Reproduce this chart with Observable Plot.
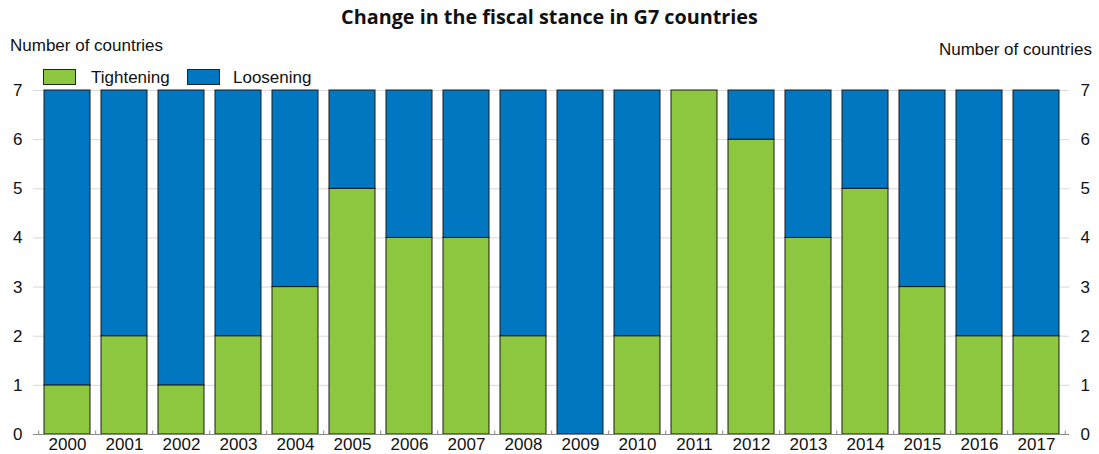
<!DOCTYPE html>
<html>
<head>
<meta charset="utf-8">
<script src="https://cdn.jsdelivr.net/npm/d3@7"></script>
<script src="https://cdn.jsdelivr.net/npm/@observablehq/plot@0.6"></script>
<style>
  html, body { margin: 0; padding: 0; background: #fff; }
  #wrap { position: relative; width: 1099px; height: 454px; font-family: "Liberation Sans", Arial, sans-serif; }
  #wrap svg { position: absolute; left: 0; top: 0; }
  .lbl { position: absolute; font-size: 17px; color: #111; white-space: nowrap; line-height: 1; }
  #title { position: absolute; left: 0; width: 1099px; top: 5px; text-align: center; font-family: "Open Sans", sans-serif; font-weight: 700; font-size: 19.8px; color: #111; line-height: 1.2; }
  .sw { position: absolute; width: 33px; height: 16px; border: 1px solid #222; box-sizing: border-box; }
</style>
</head>
<body>
<div id="wrap"></div>
<script>
const years = ["2000","2001","2002","2003","2004","2005","2006","2007","2008","2009","2010","2011","2012","2013","2014","2015","2016","2017"];
const tightening = [1,2,1,2,3,5,4,4,2,0,2,7,6,4,5,3,2,2];
const loosening  = [6,5,6,5,4,2,3,3,5,7,5,0,1,3,2,4,5,5];
const seriesNames = ["Tightening","Loosening"];
const seriesColors = ["#8dc63f","#0077c0"];
const yTicks = [0,1,2,3,4,5,6,7];

const data = [];
years.forEach((y, i) => {
  data.push({year: y, series: "Tightening", value: tightening[i]});
  data.push({year: y, series: "Loosening", value: loosening[i]});
});

const chart = Plot.plot({
  width: 1099,
  height: 454,
  marginLeft: 33,
  marginRight: 30,
  marginTop: 90,
  marginBottom: 20,
  style: {fontFamily: "'Liberation Sans', Arial, sans-serif", fontSize: "17px", background: "#fff", color: "#111"},
  x: {domain: years, paddingInner: 0.2, paddingOuter: 0.1, label: null},
  y: {domain: [0, 7], ticks: yTicks, label: null},
  color: {domain: seriesNames, range: seriesColors},
  marks: [
    Plot.gridY(yTicks.filter(d => d > 0), {stroke: "#d9d9d9", strokeOpacity: 1}),
    Plot.barY(data, Plot.stackY({x: "year", y: "value", fill: "series", order: seriesNames, stroke: "#1a1a1a", strokeWidth: 1})),
    Plot.axisY({anchor: "left", ticks: yTicks, tickFormat: "d", tickSize: 0, tickPadding: 11, label: null, fontSize: 17, fill: "#111"}),
    Plot.axisY({anchor: "right", ticks: yTicks, tickFormat: "d", tickSize: 0, tickPadding: 11, label: null, fontSize: 17, fill: "#111"}),
    Plot.axisX({tickSize: 0, tickPadding: 3, label: null, fontSize: 17, fill: "#111"}),
    Plot.ruleY([0], {stroke: "#888"}),
    Plot.ruleX(years, {x: d => d, y1: 0, y2: 0.07, dx: -28.8, stroke: "#888"}),
    Plot.ruleX([years[years.length - 1]], {x: d => d, y1: 0, y2: 0.07, dx: 28.8, stroke: "#888"})
  ]
});

const wrap = document.getElementById("wrap");
wrap.appendChild(chart);

function addLabel(text, css, cls) {
  const d = document.createElement("div");
  d.className = cls || "lbl";
  d.textContent = text;
  Object.assign(d.style, css);
  wrap.appendChild(d);
  return d;
}
const t = addLabel("Change in the fiscal stance in G7 countries", {}, "");
t.id = "title";
addLabel("Number of countries", {left: "10px", top: "37px"});
addLabel("Number of countries", {right: "7px", top: "41px"});

// legend
seriesNames.forEach((name, i) => {
  const sw = document.createElement("div");
  sw.className = "sw";
  sw.style.left = (43 + i * 144) + "px";
  sw.style.top = "69px";
  sw.style.background = seriesColors[i];
  wrap.appendChild(sw);
  addLabel(name, {left: (91 + i * 142) + "px", top: "69px"});
});
</script>
</body>
</html>
